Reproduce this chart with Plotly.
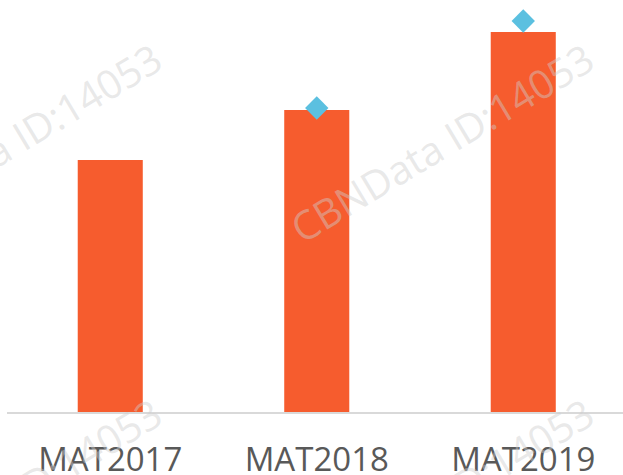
import plotly.graph_objects as go

categories = ["MAT2017", "MAT2018", "MAT2019"]
bar_values = [25.2, 30.2, 38.0]
marker_cats = ["MAT2018", "MAT2019"]
marker_values = [30.4, 39.1]

BAR_COLOR = "#F65C2E"
DIAMOND_COLOR = "#5BC0E0"

fig = go.Figure()
fig.add_trace(go.Bar(x=categories, y=bar_values, marker=dict(color=BAR_COLOR, line=dict(width=0)),
                     width=0.315, showlegend=False, hoverinfo="skip"))
fig.add_trace(go.Scatter(x=marker_cats, y=marker_values, mode="markers",
                         marker=dict(symbol="diamond", size=18, color=DIAMOND_COLOR, line=dict(width=0)),
                         showlegend=False, hoverinfo="skip"))

wm_font = dict(family="Open Sans", size=40, color="rgba(205,205,205,0.45)")
for (px, py) in [(10, 143), (442, 143), (10, 498), (442, 498)]:
    fig.add_annotation(text="CBNData ID:14053", xref="paper", yref="paper",
                       x=(px - 7) / 616, y=1 - py / 412, showarrow=False,
                       textangle=-31, font=wm_font, xanchor="center", yanchor="middle")

fig.update_layout(
    width=623, height=475,
    margin=dict(l=7, r=0, t=0, b=63, autoexpand=False),
    paper_bgcolor="white", plot_bgcolor="white",
    xaxis=dict(showline=True, linecolor="#D9D9D9", linewidth=2, ticks="", automargin=False,
               range=[-0.5, 2.483],
               tickfont=dict(family="Open Sans", size=33, color="#595959"),
               showgrid=False, zeroline=False, fixedrange=True, ticklabelstandoff=17),
    yaxis=dict(range=[0, 41.2], visible=False, showgrid=False, zeroline=False, fixedrange=True,
               automargin=False),
)
fig.write_html("out.html", config={"displayModeBar": False, "staticPlot": True},
               post_script="document.body.style.margin='0';document.body.style.overflow='hidden';")
